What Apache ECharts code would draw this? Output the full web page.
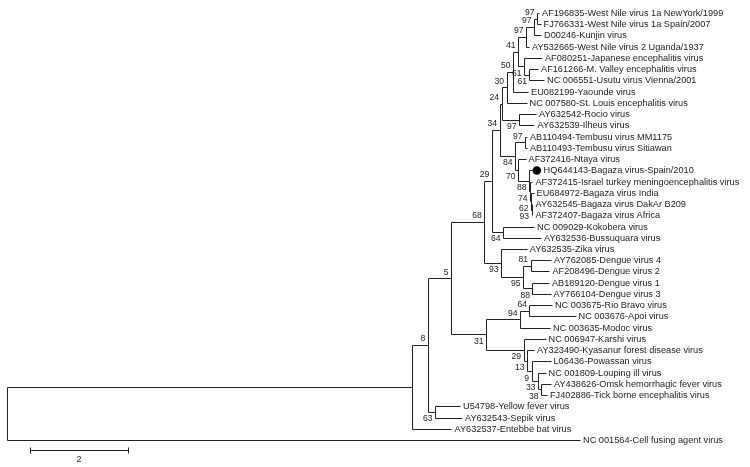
<!DOCTYPE html>
<html><head><meta charset="utf-8">
<script src="https://cdn.jsdelivr.net/npm/echarts@6/dist/echarts.min.js"></script>
<style>html,body{margin:0;padding:0;background:#fff}#c{width:750px;height:467px}</style>
</head><body><div id="c"></div>
<script>
// ---- DATA ----
const leafNames = [
  'AF196835-West Nile virus 1a NewYork/1999','FJ766331-West Nile virus 1a Spain/2007','D00246-Kunjin virus',
  'AY532665-West Nile virus 2 Uganda/1937','AF080251-Japanese encephalitis virus','AF161266-M. Valley encephalitis virus',
  'NC 006551-Usutu virus Vienna/2001','EU082199-Yaounde virus','NC 007580-St. Louis encephalitis virus',
  'AY632542-Rocio virus','AY632539-Ilheus virus','AB110494-Tembusu virus MM1175','AB110493-Tembusu virus Sitiawan',
  'AF372416-Ntaya virus','HQ644143-Bagaza virus-Spain/2010','AF372415-Israel turkey meningoencephalitis virus',
  'EU684972-Bagaza virus India','AY632545-Bagaza virus DakAr B209','AF372407-Bagaza virus Africa',
  'NC 009029-Kokobera virus','AY632536-Bussuquara virus','AY632535-Zika virus','AY762085-Dengue virus 4',
  'AF208496-Dengue virus 2','AB189120-Dengue virus 1','AY766104-Dengue virus 3','NC 003675-Rio Bravo virus',
  'NC 003676-Apoi virus','NC 003635-Modoc virus','NC 006947-Karshi virus','AY323490-Kyasanur forest disease virus',
  'L06436-Powassan virus','NC 001809-Louping ill virus','AY438626-Omsk hemorrhagic fever virus',
  'FJ402886-Tick borne encephalitis virus','U54798-Yellow fever virus','AY632543-Sepik virus',
  'AY632537-Entebbe bat virus','NC 001564-Cell fusing agent virus'
];
// distance of each tip from the root
const leafDepth = [
  10.851,10.882,10.892,10.647,10.912,10.831,10.953,10.627,10.596,10.790,
  10.759,10.606,10.606,10.576,10.700,10.718,10.739,10.718,10.718,10.749,
  10.892,10.600,11.096,11.065,11.055,11.086,11.116,11.596,11.076,10.984,
  10.749,11.086,10.984,11.096,11.014,9.239,9.280,9.065,11.688
];
// internal nodes (children listed before parents)
const nodeNames = ['nA','nB','nC','nE','nF','nD','nG','nH','nK','nJ','nL','nQ','nP','nO','nN','nM','nR','n34','nKB','n29',
  'n81','n88','n95','n93','n68','n64b','n94','n38','n33','n9','n13','n29b','n31','n5','n63','n8','nR1','root'];
const nodeChildren = [
  ['L0','L1'],['nA','L2'],['nB','L3'],['L5','L6'],['L4','nE'],['nC','nF'],['nD','L7'],['nG','L8'],['L9','L10'],['nH','nK'],
  ['L11','L12'],['L17','L18'],['L16','nQ'],['L15','nP'],['L14','nO'],['L13','nN'],['nL','nM'],['nJ','nR'],['L19','L20'],['n34','nKB'],
  ['L22','L23'],['L24','L25'],['n81','n88'],['L21','n95'],['n29','n93'],['L26','L27'],['n64b','L28'],['L33','L34'],['L32','n38'],['L31','n33'],
  ['L30','n9'],['L29','n13'],['n94','n29b'],['n68','n31'],['L35','L36'],['n5','n63'],['n8','L37'],['nR1','L38']
];
const nodeDepth = [
  10.810,10.749,10.586,10.657,10.545,10.422,10.320,10.188,10.443,10.086,
  10.565,10.698,10.688,10.667,10.647,10.422,10.361,10.045,10.116,9.886,
  10.678,10.718,10.524,10.076,9.735,10.657,10.463,10.892,10.831,10.698,
  10.606,10.535,9.769,9.055,8.729,8.580,8.253,0
];
const nodeSupport = [
  97,97,97,61,61,41,50,30,97,24,
  97,93,62,74,88,70,84,34,64,29,
  81,88,95,93,68,64,94,38,33,9,
  13,29,31,5,63,8,null,null
];
const markedLeaf = 'HQ644143-Bagaza virus-Spain/2010';
const scaleBarLength = 2;
const scaleBarLabel = '2';

// ---- LAYOUT CONSTANTS ----
const FONT = 'Liberation Sans, Arial, sans-serif';
const scaleBarStart = 0.463;
const scaleBarRow = 38.93;

// ---- BUILD TREE GEOMETRY ----
const pos = {};
leafNames.forEach((n, i) => { pos['L' + i] = { x: leafDepth[i], y: i }; });
nodeNames.forEach((id, k) => {
  const [a, b] = nodeChildren[k];
  pos[id] = { x: nodeDepth[k], y: (pos[a].y + pos[b].y) / 2 };
});
const segments = [];
const supportData = [];
nodeNames.forEach((id, k) => {
  const [a, b] = nodeChildren[k];
  const p = pos[id];
  segments.push([p.x, pos[a].y, p.x, pos[b].y]);
  [a, b].forEach((c, j) => {
    segments.push([p.x, pos[c].y, pos[c].x, pos[c].y]);
    if (c[0] !== 'L') {
      const s = nodeSupport[nodeNames.indexOf(c)];
      if (s != null) supportData.push([pos[c].x, pos[c].y, s, j]);
    }
  });
});
const leafData = leafNames.map((n, i) => [leafDepth[i], i]);

const crisp = v => Math.round(v) + 0.5;
const chart = echarts.init(document.getElementById('c'), null, { renderer: 'canvas' });
chart.setOption({
  backgroundColor: '#fff',
  animation: false,
  grid: { left: 7.3, top: 13, width: 735, height: 427 },
  xAxis: { type: 'value', min: 0, max: 15, show: false },
  yAxis: { type: 'value', min: 0, max: 38, inverse: true, show: false },
  series: [
    {
      type: 'custom', data: segments, silent: true,
      encode: { x: [0, 2], y: [1, 3] },
      renderItem(params, api) {
        const p1 = api.coord([api.value(0), api.value(1)]);
        const p2 = api.coord([api.value(2), api.value(3)]);
        return { type: 'line', shape: { x1: crisp(p1[0]), y1: crisp(p1[1]), x2: crisp(p2[0]), y2: crisp(p2[1]) },
          style: { stroke: '#222', lineWidth: 1 } };
      }
    },
    {
      type: 'custom', data: leafData, silent: true,
      encode: { x: 0, y: 1 },
      renderItem(params, api) {
        const p = api.coord([api.value(0), api.value(1)]);
        const name = leafNames[params.dataIndex];
        const marked = name === markedLeaf;
        const children = [{
          type: 'text', x: p[0] + (marked ? 12 : 3), y: crisp(p[1]),
          style: { text: name, font: '9.2px ' + FONT, fill: '#222', verticalAlign: 'middle', align: 'left' }
        }];
        if (marked) children.push({ type: 'circle', shape: { cx: p[0] + 5.2, cy: crisp(p[1]), r: 4.3 }, style: { fill: '#000' } });
        return { type: 'group', children };
      }
    },
    {
      type: 'custom', data: supportData, silent: true,
      encode: { x: 0, y: 1 },
      renderItem(params, api) {
        const p = api.coord([api.value(0), api.value(1)]);
        const lower = api.value(3) === 1;
        return { type: 'text', x: p[0] - 2.5, y: lower ? p[1] + 2.5 : p[1] - 1.5,
          style: { text: String(api.value(2)), font: '8.6px ' + FONT, fill: '#222', align: 'right',
            verticalAlign: lower ? 'top' : 'bottom' } };
      }
    },
    {
      type: 'custom', data: [[scaleBarStart, scaleBarStart + scaleBarLength, scaleBarRow]], silent: true,
      encode: { x: [0, 1], y: 2 },
      renderItem(params, api) {
        const a = api.coord([api.value(0), api.value(2)]);
        const b = api.coord([api.value(1), api.value(2)]);
        const y = crisp(a[1]);
        return { type: 'group', children: [
          { type: 'line', shape: { x1: crisp(a[0]), y1: y, x2: crisp(b[0]), y2: y }, style: { stroke: '#222', lineWidth: 1 } },
          { type: 'line', shape: { x1: crisp(a[0]), y1: y - 3, x2: crisp(a[0]), y2: y + 3 }, style: { stroke: '#222', lineWidth: 1 } },
          { type: 'line', shape: { x1: crisp(b[0]), y1: y - 3, x2: crisp(b[0]), y2: y + 3 }, style: { stroke: '#222', lineWidth: 1 } },
          { type: 'text', x: (a[0] + b[0]) / 2, y: y + 5,
            style: { text: scaleBarLabel, font: '9px ' + FONT, fill: '#222', align: 'center', verticalAlign: 'top' } }
        ] };
      }
    }
  ]
});
</script></body></html>
